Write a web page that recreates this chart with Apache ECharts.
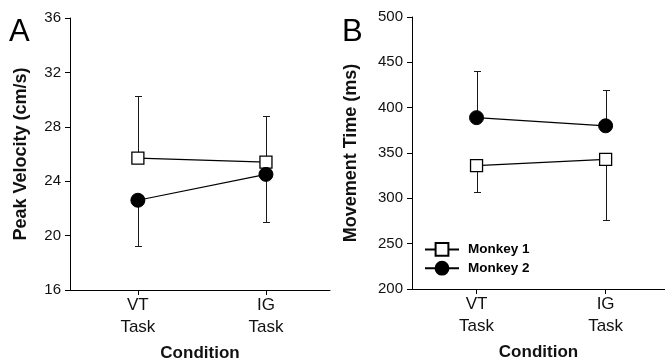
<!DOCTYPE html>
<html>
<head>
<meta charset="utf-8">
<script src="https://cdn.jsdelivr.net/npm/echarts@6/dist/echarts.min.js"></script>
<style>
html,body{margin:0;padding:0;background:#fff;}
#chart{width:665px;height:360px;}
</style>
</head>
<body>
<div id="chart"></div>
<script>
// ---- data ----
const categories = ['VT\nTask', 'IG\nTask'];
const seriesNames = ['Monkey 1', 'Monkey 2'];

// Panel A: Peak Velocity (cm/s)
const velMonkey1 = [25.7, 25.4];
const velMonkey1ErrTop = [30.3, 28.8];
const velMonkey2 = [22.6, 24.5];
const velMonkey2ErrBottom = [19.2, 21.0];
const velTicks = { min: 16, max: 36, interval: 4 };

// Panel B: Movement Time (ms)
const mtMonkey1 = [336, 343];
const mtMonkey1ErrBottom = [307, 276];
const mtMonkey2 = [389, 380];
const mtMonkey2ErrTop = [440, 419];
const mtTicks = { min: 200, max: 500, interval: 50 };

// ---- build ----
const FONT = '"Liberation Sans", Arial, Helvetica, sans-serif';
const catPos = categories.map((c, i) => i + 1);
const pts = vals => vals.map((v, i) => [catPos[i], v]);
const errPts = (vals, ends) => vals.map((v, i) => [catPos[i], v, ends[i]]);

function errRender(params, api) {
  const x = api.value(0), v = api.value(1), e = api.value(2);
  const p1 = api.coord([x, v]);
  const p2 = api.coord([x, e]);
  const px = Math.round(p1[0]) + 0.5;
  const py = Math.round(p2[1]) + 0.5;
  const st = { stroke: '#1a1a1a', lineWidth: 1 };
  return {
    type: 'group',
    children: [
      { type: 'line', shape: { x1: px, y1: p1[1], x2: px, y2: py }, style: st },
      { type: 'line', shape: { x1: px - 3.5, y1: py, x2: px + 3.5, y2: py }, style: st }
    ]
  };
}

function xAxis(gridIndex, min, max) {
  return {
    type: 'value', gridIndex, min, max,
    axisLine: { show: true, lineStyle: { color: '#000', width: 1 } },
    axisTick: { show: true, customValues: catPos, length: 5, lineStyle: { color: '#000' } },
    axisLabel: {
      customValues: catPos,
      formatter: v => categories[Math.round(v) - 1] || '',
      fontFamily: FONT, fontSize: 17, color: '#111', lineHeight: 22, margin: 4
    },
    splitLine: { show: false },
    name: 'Condition', nameLocation: 'middle', nameGap: 55,
    nameTextStyle: { fontFamily: FONT, fontSize: 17, fontWeight: 'bold', color: '#111' }
  };
}

function yAxis(gridIndex, t, name, gap) {
  return {
    type: 'value', gridIndex, min: t.min, max: t.max, interval: t.interval,
    axisLine: { show: true, lineStyle: { color: '#000', width: 1 } },
    axisTick: { show: true, length: 5, lineStyle: { color: '#000' } },
    axisLabel: { fontFamily: FONT, fontSize: 15, color: '#111', margin: 9 },
    splitLine: { show: false },
    name, nameLocation: 'middle', nameGap: gap,
    nameTextStyle: { fontFamily: FONT, fontSize: 18, fontWeight: 'bold', color: '#111' }
  };
}

const squareStyle = { color: '#fff', borderColor: '#000', borderWidth: 1.3 };
const circleStyle = { color: '#000', borderColor: '#000', borderWidth: 1 };
const lineStyle = { color: '#000', width: 1.2 };

function lineSeries(name, data, xi, symbol, size, itemStyle) {
  return {
    type: 'line', name, xAxisIndex: xi, yAxisIndex: xi, data,
    symbol, symbolSize: size, showAllSymbol: true,
    itemStyle, lineStyle, z: 5, animation: false, silent: true
  };
}
function errSeries(data, xi) {
  return {
    type: 'custom', name: 'err' + xi, xAxisIndex: xi, yAxisIndex: xi,
    data, renderItem: errRender, z: 2, animation: false, silent: true,
    encode: { x: 0, y: [1, 2] }
  };
}

const option = {
  backgroundColor: '#fff',
  animation: false,
  title: [
    { text: 'A', left: 9, top: 17, padding: 0, textStyle: { fontFamily: FONT, fontSize: 31, fontWeight: 'normal', color: '#000' } },
    { text: 'B', left: 342, top: 17, padding: 0, textStyle: { fontFamily: FONT, fontSize: 31, fontWeight: 'normal', color: '#000' } }
  ],
  grid: [
    { left: 70, top: 18, width: 260, height: 272, outerBoundsMode: 'none', containLabel: false },
    { left: 412, top: 17, width: 253, height: 272, outerBoundsMode: 'none', containLabel: false }
  ],
  xAxis: [xAxis(0, 0.47, 2.5), xAxis(1, 0.5, 2.46)],
  yAxis: [
    yAxis(0, velTicks, 'Peak Velocity (cm/s)', 40),
    yAxis(1, mtTicks, 'Movement Time (ms)', 52)
  ],
  legend: {
    data: seriesNames,
    orient: 'vertical', left: 419, top: 237,
    itemWidth: 34, itemHeight: 16, itemGap: 4,
    selectedMode: false,
    textStyle: { fontFamily: FONT, fontSize: 13.5, fontWeight: 'bold', color: '#000', padding: [0, 0, 0, 4] }
  },
  series: [
    errSeries(errPts(velMonkey1, velMonkey1ErrTop), 0),
    errSeries(errPts(velMonkey2, velMonkey2ErrBottom), 0),
    errSeries(errPts(mtMonkey1, mtMonkey1ErrBottom), 1),
    errSeries(errPts(mtMonkey2, mtMonkey2ErrTop), 1),
    lineSeries(seriesNames[0], pts(velMonkey1), 0, 'rect', 12, squareStyle),
    lineSeries(seriesNames[1], pts(velMonkey2), 0, 'circle', 14, circleStyle),
    lineSeries(seriesNames[0], pts(mtMonkey1), 1, 'rect', 12, squareStyle),
    lineSeries(seriesNames[1], pts(mtMonkey2), 1, 'circle', 14, circleStyle)
  ]
};

const chart = echarts.init(document.getElementById('chart'), null, { renderer: 'canvas' });
chart.setOption(option);
</script>
</body>
</html>
